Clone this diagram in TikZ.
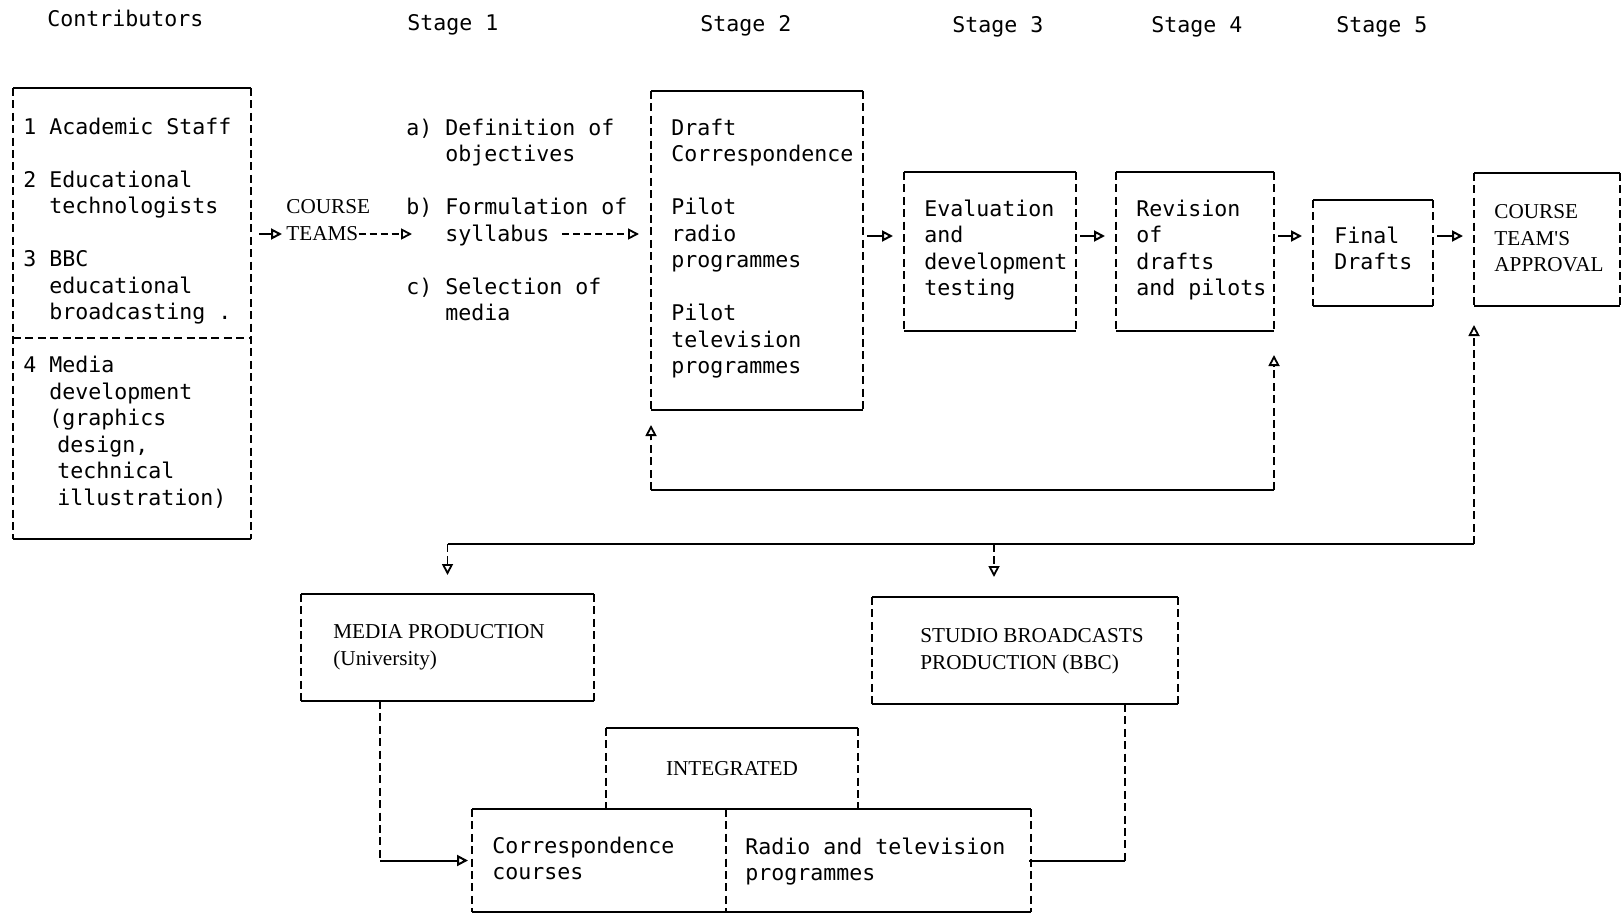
\documentclass[tikz,border=0pt]{standalone}
\usepackage{fontspec}
\setmainfont{Liberation Serif}
\newfontfamily\tyfont{DejaVu Sans Mono}
\usetikzlibrary{arrows.meta}
\tikzset{
  tyline/.style={line width=1pt},
  tydash/.style={line width=0.9pt, dash pattern=on 4pt off 2.2pt},
  typed/.style={line width=0.9pt, dash pattern=on 3.5pt off 2pt},
  boxnode/.style={rectangle, inner sep=0pt, outer sep=0pt},
  tytxt/.style={font=\tyfont\fontsize{10.8}{13.25}\selectfont, inner sep=0pt, align=left, anchor=north west},
  tyhead/.style={font=\tyfont\fontsize{10.8}{13.25}\selectfont, inner sep=0pt, anchor=base west},
  sertxt/.style={font=\fontsize{10.6}{13.25}\selectfont, inner sep=0pt, align=left, anchor=north west},
  opentip/.style={-{Triangle[open,length=5.5pt,width=5.5pt]}},
}
\newcommand\tybox[5]{%
  \node[boxnode, anchor=north west, minimum width={(#4-#2)*0.5pt}, minimum height={(#5-#3)*0.5pt}] (#1) at (#2,#3) {};
  \draw[tyline] (#1.north west) -- (#1.north east) (#1.south west) -- (#1.south east);
  \draw[tydash] (#1.north west) -- (#1.south west) (#1.north east) -- (#1.south east);
}
\begin{document}
\begin{tikzpicture}[x=0.5pt,y=-0.5pt]
\fill[white] (0,0) rectangle (1623,915);
\useasboundingbox (0,0) rectangle (1623,915);

% headings
\node[tyhead] (hcontrib) at (47,27) {Contributors};
\node[tyhead] (hst1) at (407,31) {Stage 1};
\node[tyhead] (hst2) at (700,32) {Stage 2};
\node[tyhead] (hst3) at (952,33) {Stage 3};
\node[tyhead] (hst4) at (1151,33) {Stage 4};
\node[tyhead] (hst5) at (1336,33) {Stage 5};

% boxes
\tybox{contrib}{13}{88}{251}{539}
\tybox{stwo}{651}{91}{863}{410}
\tybox{sthree}{904}{172}{1076}{331}
\tybox{sfour}{1116}{172}{1274}{331}
\tybox{sfive}{1313}{200}{1433}{306}
\tybox{appr}{1474}{173}{1620}{306}
\tybox{media}{301}{594}{594}{701}
\tybox{studio}{872}{597}{1178}{704}
\tybox{integ}{606}{728}{858}{809}
\tybox{corr}{472}{809}{726}{912}
\tybox{radio}{726}{809}{1031}{912}

\coordinate (sepy) at (0,338);
\draw[tydash] (contrib.west |- sepy) -- (contrib.east |- sepy);

% texts
\node[tytxt] (contribtext) at (23,115.5) {\strut 1 Academic Staff\\[13.25pt]
2 Educational\\
\hspace*{13pt}technologists\\[13.25pt]
3 BBC\\
\hspace*{13pt}educational\\
\hspace*{13pt}broadcasting .\\[13.25pt]
4 Media\\
\hspace*{13pt}development\\
\hspace*{13pt}(graphics\\
\hspace*{17pt}design,\\
\hspace*{17pt}technical\\
\hspace*{17pt}illustration)};

\node[tytxt] (stone) at (406,116.5) {\strut a) Definition of\\
\hspace*{19.5pt}objectives\\[13.25pt]
b) Formulation of\\
\hspace*{19.5pt}syllabus\\[13.25pt]
c) Selection of\\
\hspace*{19.5pt}media};

\node[sertxt] (course) at (286,195) {\strut COURSE};
\node[sertxt] (teams) at (286,222) {\strut TEAMS};

\node[tytxt] (stwotext) at (671,116.5) {\strut Draft\\
Correspondence\\[13.25pt]
Pilot\\
radio\\
programmes\\[13.25pt]
Pilot\\
television\\
programmes};

\node[tytxt] (sthreetext) at (924,197.5) {\strut Evaluation\\and\\development\\testing};
\node[tytxt] (sfourtext) at (1136,197.5) {\strut Revision\\of\\drafts\\and pilots};
\node[tytxt] (sfivetext) at (1334,224.5) {\strut Final\\Drafts};
\node[sertxt] (apprtext) at (1494,200) {\strut COURSE\\TEAM\textquotesingle S\\APPROVAL};

\node[sertxt] (mediatext) at (333,620) {\strut MEDIA PRODUCTION\\(University)};
\node[sertxt] (studiotext) at (920,624) {\strut STUDIO BROADCASTS\\PRODUCTION (BBC)};
\node[font=\fontsize{10.6}{13.25}\selectfont, inner sep=0pt] (integtext) at (integ.center) {INTEGRATED};
\node[tytxt] (corrtext) at (492,834.5) {\strut Correspondence\\courses};
\node[tytxt] (radiotext) at (745,835.5) {\strut Radio and television\\programmes};

% connectors, top row
\coordinate (aya) at (0,234);
\draw[tyline, opentip, shorten <=4pt, shorten >=2pt] (contrib.east |- aya) -- (teams.west |- aya);
\draw[typed, opentip] (teams.east |- aya) -- ([xshift=3pt]stone.west |- aya);
\coordinate (sylend) at (562,234);
\draw[typed, opentip, shorten >=6pt] (sylend) -- (stwo.west |- sylend);

\coordinate (ay) at (0,236);
\draw[tyline, opentip, shorten <=2pt, shorten >=5.5pt] (stwo.east |- ay) -- (sthree.west |- ay);
\draw[tyline, opentip, shorten <=2pt, shorten >=5.5pt] (sthree.east |- ay) -- (sfour.west |- ay);
\draw[tyline, opentip, shorten <=2pt, shorten >=5.5pt] (sfour.east |- ay) -- (sfive.west |- ay);
\draw[tyline, opentip, shorten <=2pt, shorten >=5.5pt] (sfive.east |- ay) -- (appr.west |- ay);

% feedback loop to stages 2 and 4
\coordinate (fb) at (0,490);
\draw[tyline] (stwo.west |- fb) -- (sfour.east |- fb);
\draw[tydash, opentip, shorten >=7.5pt] (stwo.west |- fb) -- (stwo.south west);
\draw[tydash, opentip, shorten >=12pt] (sfour.east |- fb) -- (sfour.south east);

% approval loop and production branches
\coordinate (fbb) at (0,544);
\coordinate (brtwo) at (994,544);
\draw[tyline] (media.north |- fbb) -- (appr.west |- fbb);
\draw[tydash, opentip, shorten >=9.5pt] (appr.west |- fbb) -- (appr.south west);
\draw[tydash, opentip, shorten >=9.5pt] (media.north |- fbb) -- (media.north);
\draw[tydash, opentip, shorten >=10pt] (brtwo) -- (brtwo |- studio.north);

% production to final products
\coordinate (mx) at (380,0);
\draw[tydash] (mx |- media.south) -- (mx |- corr.west);
\draw[tyline, opentip, shorten >=2pt] (mx |- corr.west) -- (corr.west);
\coordinate (sx) at (1125,0);
\draw[tydash] (sx |- studio.south) -- (sx |- radio.east);
\draw[tyline, shorten >=-1pt] (sx |- radio.east) -- (radio.east);
\end{tikzpicture}
\end{document}
